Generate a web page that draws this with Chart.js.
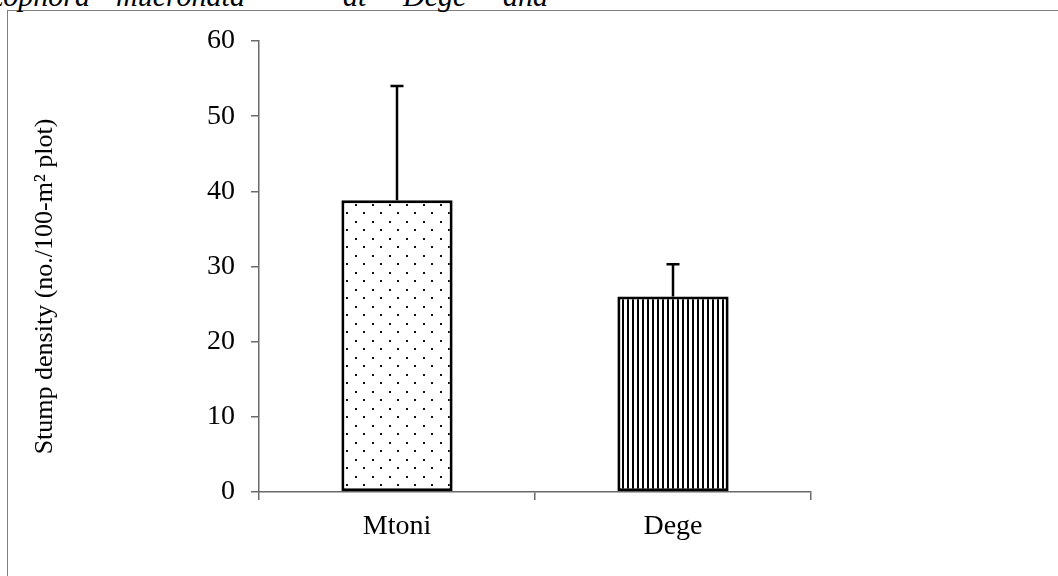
<!DOCTYPE html>
<html>
<head>
<meta charset="utf-8">
<script src="https://cdn.jsdelivr.net/npm/chart.js@4.4.1/dist/chart.umd.min.js"></script>
<style>
  html, body { margin: 0; padding: 0; background: #fff; overflow: hidden; }
  #wrap { position: relative; width: 1058px; height: 576px; overflow: hidden; }
  #frame { position: absolute; left: 7px; top: 10px; width: 1200px; height: 800px;
           border: 1.5px solid #7f7f7f; }
  .cap { position: absolute; top: -21px; line-height: 30px;
         font: italic 30px "Liberation Serif", serif; color: #000; white-space: nowrap; }
  canvas { position: absolute; left: 0; top: 0; }
</style>
</head>
<body>
<div id="wrap">
  <div id="frame"></div>
  <span class="cap" style="right:968px">Rhizophora</span>
  <span class="cap" style="left:116px">mucronata</span>
  <span class="cap" style="left:343px">at</span>
  <span class="cap" style="left:403px">Dege</span>
  <span class="cap" style="left:503px">and</span>
  <canvas id="chart" width="1058" height="576"></canvas>
</div>
<script>
// Stump density per 100 m² plot at each site, with standard error
const sites = ['Mtoni', 'Dege'];
const stumpDensity = [38.8, 26.0];
const stumpDensitySE = [15.2, 4.3];
const yTicks = [0, 10, 20, 30, 40, 50, 60];
const yTitle = 'Stump density (no./100-m² plot)';

const FONT = 'Liberation Serif';
const AXIS = '#6a6a6a';

const canvas = document.getElementById('chart');
const ctx = canvas.getContext('2d');

// Fill patterns: stippled dots and fine vertical hatching
function makePattern(w, h, paint) {
  const c = document.createElement('canvas');
  c.width = w; c.height = h;
  const g = c.getContext('2d');
  g.fillStyle = '#fff';
  g.fillRect(0, 0, w, h);
  paint(g);
  return ctx.createPattern(c, 'repeat');
}
const dots = makePattern(17, 17, g => {
  g.fillStyle = '#111';
  g.fillRect(15, 0, 2, 2);
  g.fillRect(6, 8, 2, 2);
});
const stripes = makePattern(5, 5, g => {
  g.fillStyle = '#000';
  g.fillRect(2, 0, 2, 5);
});

// Upper error bars drawn from each bar's top through the y scale
const errorBars = {
  id: 'errorBars',
  afterDatasetsDraw(chart) {
    const y = chart.scales.y;
    const meta = chart.getDatasetMeta(0);
    const c = chart.ctx;
    c.save();
    c.strokeStyle = '#000';
    c.lineWidth = 2.5;
    meta.data.forEach((bar, i) => {
      const top = y.getPixelForValue(stumpDensity[i] + stumpDensitySE[i]);
      c.beginPath();
      c.moveTo(bar.x, bar.y);
      c.lineTo(bar.x, top);
      c.moveTo(bar.x - 6.5, top);
      c.lineTo(bar.x + 6.5, top);
      c.stroke();
    });
    c.restore();
  }
};

// Rotated y-axis title
const yAxisTitle = {
  id: 'yAxisTitle',
  afterDraw(chart) {
    const a = chart.chartArea;
    const c = chart.ctx;
    c.save();
    c.translate(52, (a.top + a.bottom) / 2 + 20);
    c.rotate(-Math.PI / 2);
    c.font = '26px "' + FONT + '"';
    c.fillStyle = '#000';
    c.textAlign = 'center';
    c.textBaseline = 'alphabetic';
    c.fillText(yTitle, 0, 0);
    c.restore();
  }
};

new Chart(ctx, {
  type: 'bar',
  data: {
    labels: sites,
    datasets: [{
      data: stumpDensity,
      backgroundColor: [dots, stripes],
      borderColor: '#000',
      borderWidth: 3,
      borderSkipped: false,
      barPercentage: 0.403,
      categoryPercentage: 1
    }]
  },
  options: {
    responsive: false,
    animation: false,
    devicePixelRatio: 1,
    layout: { padding: { left: 0, top: 41, right: 247, bottom: 0 } },
    plugins: { legend: { display: false }, tooltip: { enabled: false } },
    scales: {
      x: {
        grid: { drawOnChartArea: false, drawTicks: true, tickLength: 8,
                color: AXIS, lineWidth: 1.5, offset: true },
        border: { color: AXIS, width: 1.5 },
        ticks: { color: '#000', font: { family: FONT, size: 28 }, padding: 10 },
        afterFit(s) { s.height = 84; }
      },
      y: {
        min: 0,
        max: 60,
        afterBuildTicks(s) { s.ticks = yTicks.map(v => ({ value: v })); },
        grid: { drawOnChartArea: false, drawTicks: true, tickLength: 8,
                color: AXIS, lineWidth: 1.5 },
        border: { color: AXIS, width: 1.5 },
        ticks: { color: '#000', font: { family: FONT, size: 28 }, padding: 16 },
        afterFit(s) { s.width = 259; }
      }
    }
  },
  plugins: [errorBars, yAxisTitle]
});
</script>
</body>
</html>
